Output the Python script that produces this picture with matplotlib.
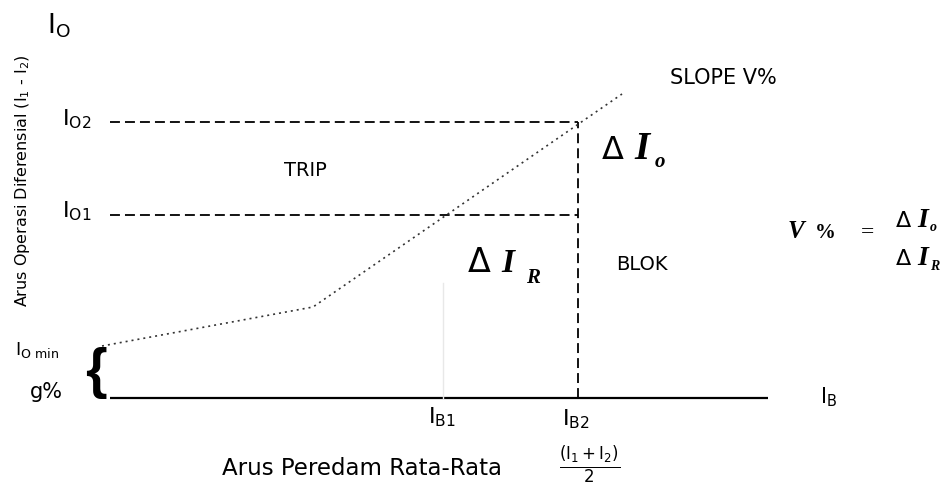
import matplotlib.pyplot as plt

# Titik-titik karakteristik rele diferensial (satuan diagram, asal di ujung kiri sumbu I_B)
# Characteristic points of the differential relay (diagram units, origin at left end of I_B axis)
slope_ib = [-8, 203, 512]
slope_io = [52, 91, 304]
io_min = 52
io1 = 183
io2 = 276
ib1 = 333
ib2 = 468
ib_akhir = 658

fig = plt.figure(figsize=(9.52, 4.84), dpi=100)
ax = fig.add_axes([0, 0, 1, 1])
ax.set_xlim(-110, 842)
ax.set_ylim(-86, 398)
ax.axis('off')

# Sumbu I_B
ax.plot([0, ib_akhir], [0, 0], color='black', linewidth=1.6, solid_capstyle='butt')

# Garis putus-putus I_O1, I_O2 dan I_B2
putus = dict(color='black', linewidth=1.3, linestyle=(0, (5.5, 2.8)))
ax.plot([0, ib2], [io2, io2], **putus)
ax.plot([0, ib2], [io1, io1], **putus)
ax.plot([ib2, ib2], [0, io2], **putus)

# Garis samar di I_B1
ax.plot([ib1, ib1], [0, 115], color='#e8e8e8', linewidth=1.0)

# Kurva slope
ax.plot(slope_ib, slope_io, color='#333333', linewidth=1.2, linestyle=(0, (1.2, 2.4)))

teks = dict(family='DejaVu Sans', color='black')

# Label sumbu
ax.text(-87, 217, 'Arus Operasi Diferensial (I$_1$ - I$_2$)', rotation=90,
        ha='center', va='center', fontsize=11.5, **teks)
ax.text(112, -77, 'Arus Peredam Rata-Rata', ha='left', va='baseline', fontsize=16.5, **teks)
ax.text(480, -67, r'$\mathregular{\frac{(I_1 + I_2)}{2}}$', ha='center', va='center', fontsize=17, **teks)

ax.text(-63, 365, r'$\mathregular{I_O}$', ha='left', va='baseline', fontsize=19, **teks)
ax.text(-48, 273, r'$\mathregular{I_{O2}}$', ha='left', va='baseline', fontsize=16, **teks)
ax.text(-48, 181, r'$\mathregular{I_{O1}}$', ha='left', va='baseline', fontsize=16, **teks)
ax.text(-95, 43, r'$\mathregular{I_{O\ min}}$', ha='left', va='baseline', fontsize=13, **teks)
ax.text(-80, 0, 'g%', ha='left', va='baseline', fontsize=15, **teks)
ax.text(-14, 25, '{', ha='center', va='center', fontsize=40, family='Liberation Sans',
        fontweight='bold')

ax.text(318, -25, r'$\mathregular{I_{B1}}$', ha='left', va='baseline', fontsize=16, **teks)
ax.text(452, -27, r'$\mathregular{I_{B2}}$', ha='left', va='baseline', fontsize=16, **teks)
ax.text(710, -5, r'$\mathregular{I_B}$', ha='left', va='baseline', fontsize=15, **teks)

ax.text(195, 228, 'TRIP', ha='center', va='center', fontsize=14, **teks)
ax.text(532, 134, 'BLOK', ha='center', va='center', fontsize=14, **teks)
ax.text(613, 320, 'SLOPE V%', ha='center', va='center', fontsize=15, **teks)


def delta_i(x, y, sub, f_delta, f_i, dx_i, dx_sub, dy_sub, f_sub):
    # Delta tipis + I tebal miring + subskrip
    ax.text(x, y, '\u0394', ha='left', va='baseline', fontsize=f_delta,
            family='DejaVu Sans', color='black')
    ax.text(x + dx_i, y, 'I', ha='left', va='baseline', fontsize=f_i,
            family='Liberation Serif', fontweight='bold', style='italic', color='black')
    ax.text(x + dx_sub, y - dy_sub, sub, ha='left', va='baseline', fontsize=f_sub,
            family='Liberation Serif', fontweight='bold', style='italic', color='black')


delta_i(492, 239, 'o', 23, 28, 32, 53, 8, 15)
delta_i(358, 126, 'R', 24, 24, 33, 58, 11, 15)

# Rumus V% = dIo / dIR
ax.text(678, 160, 'V', ha='left', va='baseline', fontsize=18, family='Liberation Serif',
        fontweight='bold', style='italic')
ax.text(705, 160, '%', ha='left', va='baseline', fontsize=15, family='Liberation Serif',
        fontweight='bold')
ax.text(757, 165, '=', ha='center', va='center', fontsize=17, family='Liberation Serif')
delta_i(786, 171, 'o', 16, 20, 21, 34, 4, 10)
delta_i(786, 133, 'R', 16, 20, 21, 34, 5, 10)

fig.savefig('out.png', dpi=100)
